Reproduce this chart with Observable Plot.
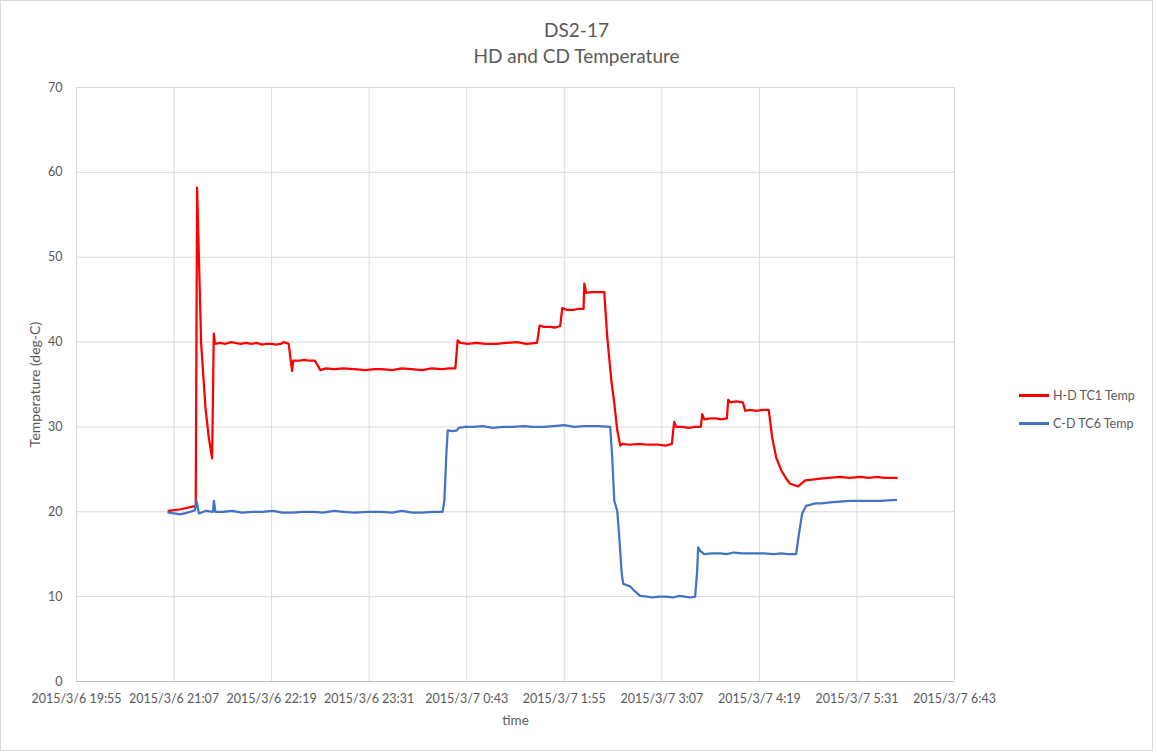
<!DOCTYPE html>
<html><head><meta charset="utf-8">
<script src="https://cdn.jsdelivr.net/npm/d3@7"></script>
<script src="https://cdn.jsdelivr.net/npm/@observablehq/plot@0.6"></script>
<style>
body{margin:0;background:#fff;font-family:Lato,"Open Sans",sans-serif;}
#wrap{position:relative;width:1157px;height:756px;overflow:hidden}
#frame{position:absolute;left:0;top:0;width:1151px;height:749px;border:1px solid #d9d9d9;pointer-events:none}
#title{position:absolute;left:0;top:0;width:1153px;height:70px;text-align:center;color:#595959;font-size:19px;line-height:26px;padding-top:17px;box-sizing:border-box}
#chart{position:absolute;left:0;top:70px}
.leg{position:absolute;left:1019px;font-size:12.5px;color:#595959;display:flex;align-items:center;white-space:nowrap}
.leg span.sw{display:inline-block;width:30px;height:2.5px;margin-right:4px}
</style></head>
<body>
<div id="wrap">
<div id="title"><div>DS2-17</div><div>HD and CD Temperature</div></div>
<div id="chart"></div>
<div id="legend"></div>
<div id="frame"></div>
</div>
<script>
const seriesNames = ["H-D TC1 Temp", "C-D TC6 Temp"];
const seriesColors = ["#ff0000", "#4472c4"];
const xTickLabels = ["2015/3/6 19:55","2015/3/6 21:07","2015/3/6 22:19","2015/3/6 23:31","2015/3/7 0:43","2015/3/7 1:55","2015/3/7 3:07","2015/3/7 4:19","2015/3/7 5:31","2015/3/7 6:43"];
const yTicks = [0,10,20,30,40,50,60,70];
const xTitle = "time";
const yTitle = "Temperature (deg-C)";

// H-D TC1 Temp: [time, deg-C]
const hdTC1 = [
["2015-03-06T21:03:00",20.1],["2015-03-06T21:12:00",20.3],["2015-03-06T21:23:00",20.7],
["2015-03-06T21:24:00",58.2],["2015-03-06T21:27:00",39.8],["2015-03-06T21:30:10",32.3],
["2015-03-06T21:32:35",28.8],["2015-03-06T21:35:05",26.3],["2015-03-06T21:36:20",41.0],
["2015-03-06T21:37:10",39.8],["2015-03-06T21:41:00",39.9],["2015-03-06T21:45:00",39.8],
["2015-03-06T21:49:00",40.0],["2015-03-06T21:52:00",39.9],["2015-03-06T21:56:00",39.8],
["2015-03-06T22:00:00",39.9],["2015-03-06T22:04:00",39.8],["2015-03-06T22:08:00",39.9],
["2015-03-06T22:12:00",39.7],["2015-03-06T22:15:00",39.8],["2015-03-06T22:19:00",39.8],
["2015-03-06T22:22:00",39.7],["2015-03-06T22:26:00",39.8],["2015-03-06T22:28:00",40.0],
["2015-03-06T22:31:36",39.8],
["2015-03-06T22:34:06",36.6],["2015-03-06T22:35:00",37.8],["2015-03-06T22:39:00",37.8],
["2015-03-06T22:43:00",37.9],["2015-03-06T22:47:00",37.8],
["2015-03-06T22:51:00",37.8],["2015-03-06T22:55:00",36.7],["2015-03-06T22:59:00",36.9],
["2015-03-06T23:05:00",36.8],["2015-03-06T23:12:00",36.9],["2015-03-06T23:20:00",36.8],
["2015-03-06T23:28:00",36.7],["2015-03-06T23:35:00",36.8],["2015-03-06T23:40:00",36.8],
["2015-03-06T23:48:00",36.7],["2015-03-06T23:55:00",36.9],["2015-03-07T00:02:00",36.8],
["2015-03-07T00:10:00",36.7],["2015-03-07T00:17:00",36.9],["2015-03-07T00:25:00",36.8],
["2015-03-07T00:30:00",36.9],["2015-03-07T00:34:36",36.9],
["2015-03-07T00:36:18",40.2],["2015-03-07T00:38:18",39.9],["2015-03-07T00:44:00",39.8],
["2015-03-07T00:50:00",39.9],["2015-03-07T00:57:00",39.8],["2015-03-07T01:05:00",39.8],
["2015-03-07T01:12:00",39.9],["2015-03-07T01:20:00",40.0],["2015-03-07T01:27:00",39.8],
["2015-03-07T01:34:54",39.9],
["2015-03-07T01:36:48",41.95],["2015-03-07T01:40:00",41.8],["2015-03-07T01:45:00",41.8],
["2015-03-07T01:48:00",41.7],["2015-03-07T01:52:00",41.9],
["2015-03-07T01:53:30",44.0],["2015-03-07T01:57:00",43.8],["2015-03-07T02:02:00",43.8],
["2015-03-07T02:05:00",43.9],["2015-03-07T02:09:12",43.9],
["2015-03-07T02:09:48",46.9],["2015-03-07T02:11:12",45.8],["2015-03-07T02:15:00",45.9],
["2015-03-07T02:20:00",45.9],["2015-03-07T02:24:30",45.9],["2015-03-07T02:26:42",40.6],
["2015-03-07T02:29:42",35.5],["2015-03-07T02:31:54",32.8],["2015-03-07T02:34:06",29.6],
["2015-03-07T02:36:18",27.8],["2015-03-07T02:37:48",28.0],["2015-03-07T02:43:00",27.9],
["2015-03-07T02:50:00",28.0],["2015-03-07T02:57:00",27.9],["2015-03-07T03:05:00",27.9],
["2015-03-07T03:10:00",27.8],["2015-03-07T03:14:24",28.0],
["2015-03-07T03:16:06",30.6],["2015-03-07T03:17:36",30.0],["2015-03-07T03:22:00",30.0],
["2015-03-07T03:27:00",29.9],["2015-03-07T03:31:00",30.0],["2015-03-07T03:35:48",30.0],
["2015-03-07T03:36:48",31.5],["2015-03-07T03:38:18",30.9],["2015-03-07T03:43:00",31.0],
["2015-03-07T03:47:00",31.0],["2015-03-07T03:51:00",30.9],["2015-03-07T03:55:00",31.0],
["2015-03-07T03:56:00",33.2],["2015-03-07T03:57:30",32.9],["2015-03-07T04:02:00",33.0],
["2015-03-07T04:06:48",32.9],["2015-03-07T04:08:30",31.9],["2015-03-07T04:12:00",32.0],
["2015-03-07T04:17:00",31.9],["2015-03-07T04:21:00",32.0],
["2015-03-07T04:25:54",32.0],["2015-03-07T04:28:24",28.8],["2015-03-07T04:31:24",26.4],
["2015-03-07T04:35:06",24.9],["2015-03-07T04:38:48",23.9],["2015-03-07T04:41:42",23.3],
["2015-03-07T04:47:36",23.0],["2015-03-07T04:52:48",23.7],["2015-03-07T04:58:00",23.8],
["2015-03-07T05:03:48",23.9],["2015-03-07T05:10:00",24.0],["2015-03-07T05:18:36",24.1],
["2015-03-07T05:25:00",24.0],["2015-03-07T05:33:18",24.1],["2015-03-07T05:40:00",24.0],
["2015-03-07T05:45:00",24.1],["2015-03-07T05:52:00",24.0],["2015-03-07T06:00:24",24.0]
];

// C-D TC6 Temp: [time, deg-C]
const cdTC6 = [
["2015-03-06T21:02:54",19.9],["2015-03-06T21:07:00",19.8],["2015-03-06T21:11:42",19.7],
["2015-03-06T21:19:00",20.0],["2015-03-06T21:22:24",20.2],["2015-03-06T21:23:30",21.3],
["2015-03-06T21:25:24",19.8],["2015-03-06T21:30:12",20.1],["2015-03-06T21:35:42",20.0],
["2015-03-06T21:36:24",21.3],["2015-03-06T21:37:30",20.0],["2015-03-06T21:43:00",20.0],
["2015-03-06T21:50:00",20.1],["2015-03-06T21:57:00",19.9],["2015-03-06T22:05:00",20.0],
["2015-03-06T22:12:00",20.0],["2015-03-06T22:20:00",20.1],["2015-03-06T22:27:00",19.9],
["2015-03-06T22:35:00",19.9],["2015-03-06T22:42:00",20.0],["2015-03-06T22:50:00",20.0],
["2015-03-06T22:57:00",19.9],["2015-03-06T23:05:00",20.1],["2015-03-06T23:12:00",20.0],
["2015-03-06T23:20:00",19.9],["2015-03-06T23:30:00",20.0],["2015-03-06T23:40:00",20.0],
["2015-03-06T23:48:00",19.9],["2015-03-06T23:55:00",20.1],["2015-03-07T00:03:00",19.9],
["2015-03-07T00:10:00",19.9],["2015-03-07T00:18:00",20.0],
["2015-03-07T00:25:12",20.0],["2015-03-07T00:26:30",21.3],["2015-03-07T00:28:00",26.9],
["2015-03-07T00:29:00",29.6],["2015-03-07T00:33:00",29.5],["2015-03-07T00:35:48",29.6],
["2015-03-07T00:37:00",29.9],["2015-03-07T00:41:30",30.0],["2015-03-07T00:48:00",30.0],
["2015-03-07T00:55:00",30.1],["2015-03-07T01:02:00",29.9],["2015-03-07T01:10:00",30.0],
["2015-03-07T01:17:00",30.0],["2015-03-07T01:25:00",30.1],["2015-03-07T01:32:00",30.0],
["2015-03-07T01:40:00",30.0],["2015-03-07T01:47:00",30.1],["2015-03-07T01:55:00",30.2],
["2015-03-07T02:02:00",30.0],["2015-03-07T02:10:00",30.1],["2015-03-07T02:20:00",30.1],
["2015-03-07T02:28:54",30.0],["2015-03-07T02:30:24",26.4],["2015-03-07T02:31:54",21.3],
["2015-03-07T02:34:06",20.1],["2015-03-07T02:35:36",17.0],["2015-03-07T02:37:24",12.7],
["2015-03-07T02:38:30",11.5],["2015-03-07T02:43:42",11.2],["2015-03-07T02:46:36",10.7],
["2015-03-07T02:51:00",10.1],["2015-03-07T02:56:00",10.0],["2015-03-07T03:00:00",9.9],
["2015-03-07T03:05:00",10.0],["2015-03-07T03:10:00",10.0],["2015-03-07T03:15:00",9.9],
["2015-03-07T03:20:00",10.1],["2015-03-07T03:24:00",10.0],["2015-03-07T03:28:00",9.9],
["2015-03-07T03:31:36",10.0],["2015-03-07T03:33:06",13.1],["2015-03-07T03:33:48",15.8],
["2015-03-07T03:35:18",15.4],["2015-03-07T03:38:18",15.0],["2015-03-07T03:44:00",15.1],
["2015-03-07T03:50:00",15.1],["2015-03-07T03:55:00",15.0],["2015-03-07T04:00:00",15.2],
["2015-03-07T04:07:00",15.1],["2015-03-07T04:15:00",15.1],["2015-03-07T04:22:00",15.1],
["2015-03-07T04:30:00",15.0],["2015-03-07T04:35:00",15.1],["2015-03-07T04:40:00",15.0],
["2015-03-07T04:46:06",15.0],["2015-03-07T04:48:36",17.8],["2015-03-07T04:50:36",19.8],
["2015-03-07T04:53:30",20.7],["2015-03-07T05:00:12",21.0],["2015-03-07T05:05:00",21.0],
["2015-03-07T05:11:12",21.1],["2015-03-07T05:18:00",21.2],["2015-03-07T05:26:00",21.3],
["2015-03-07T05:33:00",21.3],["2015-03-07T05:40:00",21.3],["2015-03-07T05:48:00",21.3],
["2015-03-07T05:59:54",21.4]
];

const parseLabel = d3.timeParse("%Y/%m/%d %H:%M");
const tickDates = xTickLabels.map(s => parseLabel(s));
const fmt = d3.timeFormat("%Y/%-m/%-d %-H:%M");
const toRows = (arr, name) => arr.map(([t, v]) => ({t: new Date(t), v, name}));
const rows = [...toRows(hdTC1, seriesNames[0]), ...toRows(cdTC6, seriesNames[1])];

const chart = Plot.plot({
  width: 1157, height: 686,
  marginLeft: 76, marginRight: 203, marginTop: 17, marginBottom: 75,
  style: {fontFamily: "Lato, 'Open Sans', sans-serif", fontSize: "12.5px", color: "#595959", background: "transparent", overflow: "visible"},
  x: {type: "time", domain: [tickDates[0], tickDates[tickDates.length - 1]]},
  y: {domain: [0, 70]},
  color: {domain: seriesNames, range: seriesColors},
  marks: [
    Plot.gridX(tickDates, {stroke: "#d9d9d9", strokeOpacity: 1}),
    Plot.gridY(yTicks, {stroke: "#d9d9d9", strokeOpacity: 1}),
    Plot.ruleY([0], {stroke: "#bfbfbf", strokeWidth: 1}),
    Plot.lineY(rows, {x: "t", y: "v", z: "name", stroke: "name", strokeWidth: 2.25, curve: "linear"}),
    Plot.axisX(tickDates, {tickFormat: fmt, tickSize: 0, tickPadding: 13, label: null, fill: "#595959", fontSize: 12.5}),
    Plot.axisY(yTicks, {tickSize: 0, tickPadding: 14, label: null, fill: "#595959", fontSize: 12.5}),
    Plot.text([xTitle], {frameAnchor: "bottom", lineAnchor: "middle", dy: 39, fontSize: 13.5, fill: "#595959"}),
    Plot.text([yTitle], {frameAnchor: "left", textAnchor: "middle", lineAnchor: "middle", dx: -41, rotate: -90, fontSize: 14, fill: "#595959"})
  ]
});
document.getElementById("chart").appendChild(chart);

const legend = document.getElementById("legend");
const legendTops = [388, 416];
seriesNames.forEach((n, i) => {
  const d = document.createElement("div");
  d.className = "leg";
  d.style.top = legendTops[i] + "px";
  d.innerHTML = `<span class="sw" style="background:${seriesColors[i]}"></span>${n}`;
  legend.appendChild(d);
});
</script>
</body></html>
